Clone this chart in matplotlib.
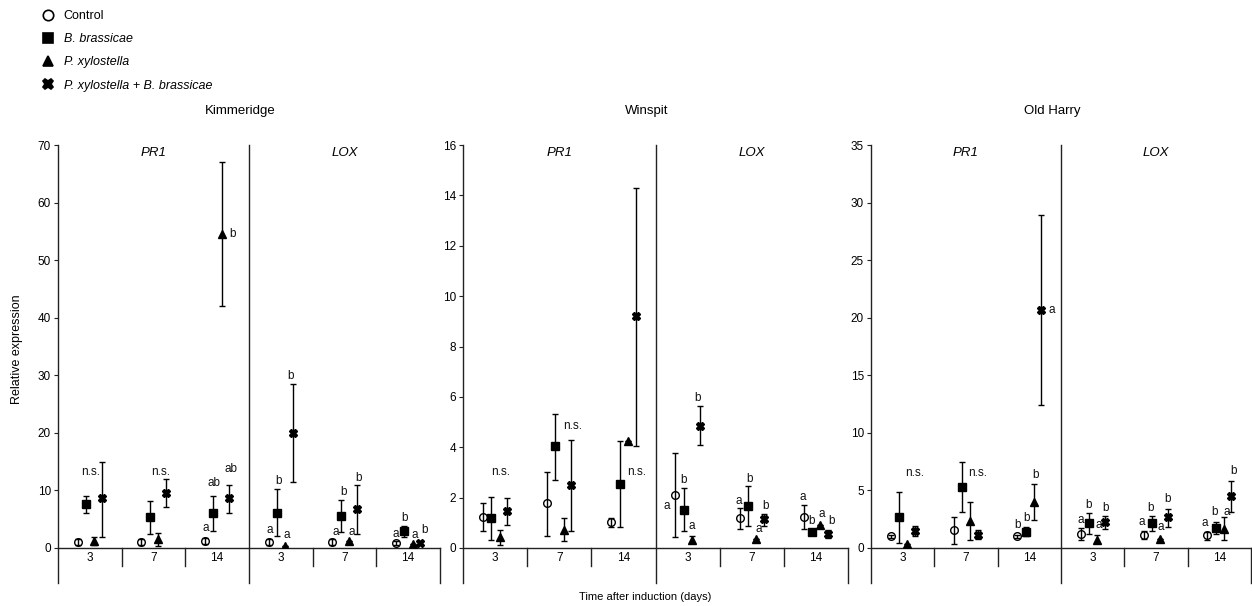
import numpy as np
import matplotlib
matplotlib.use('Agg')
import matplotlib.pyplot as plt
from matplotlib.lines import Line2D
import matplotlib.transforms as mtransforms

plt.rcParams['font.family'] = ['Liberation Sans', 'DejaVu Sans']

sites = ['Kimmeridge', 'Winspit', 'Old Harry']
genes = ['PR1', 'LOX']
days = ['3', '7', '14']
treatments = ['Control', 'B. brassicae', 'P. xylostella', 'P. xylostella + B. brassicae']
ymax = [70, 16, 35]
ystep = [10, 2, 5]

# rows: control, B. brassicae, P. xylostella, P. xylostella + B. brassicae
# cols: PR1 day 3, 7, 14, LOX day 3, 7, 14
kim_mean = [[1.0, 1.0, 1.2, 1.0, 1.0, 0.9],
            [7.7, 5.4, 6.0, 6.1, 5.6, 2.9],
            [1.15, 1.5, 54.5, 0.35, 1.15, 0.75],
            [8.6, 9.6, 8.6, 20.0, 6.7, 0.9]]
kim_lo = [[0.5, 0.5, 0.7, 0.5, 0.5, 0.5],
          [6.1, 2.5, 2.95, 2.0, 2.8, 1.9],
          [0.5, 0.35, 42.0, 0.35, 1.15, 0.75],
          [1.9, 7.1, 6.0, 11.5, 2.4, 0.6]]
kim_hi = [[1.5, 1.5, 1.7, 1.5, 1.5, 1.3],
          [9.1, 8.2, 9.0, 10.2, 8.3, 3.9],
          [1.9, 2.6, 67.0, 0.35, 1.15, 0.75],
          [15.0, 11.9, 11.0, 28.4, 10.9, 1.2]]

win_mean = [[1.22, 1.77, 1.02, 2.1, 1.18, 1.25],
            [1.19, 4.03, 2.54, 1.52, 1.68, 0.62],
            [0.42, 0.73, 4.24, 0.32, 0.36, 0.93],
            [1.47, 2.5, 9.2, 4.86, 1.15, 0.56]]
win_lo = [[0.66, 0.46, 0.82, 0.42, 0.75, 0.75],
          [0.33, 2.7, 0.82, 0.66, 0.86, 0.62],
          [0.13, 0.26, 4.24, 0.19, 0.36, 0.93],
          [0.91, 0.66, 4.05, 4.1, 0.89, 0.38]]
win_hi = [[1.77, 3.03, 1.19, 3.77, 1.59, 1.72],
          [2.04, 5.32, 4.24, 2.37, 2.45, 0.62],
          [0.72, 1.18, 4.24, 0.49, 0.36, 0.93],
          [2.0, 4.3, 14.3, 5.63, 1.35, 0.73]]

old_mean = [[1.0, 1.57, 1.0, 1.23, 1.09, 1.09],
            [2.66, 5.29, 1.37, 2.17, 2.14, 1.71],
            [0.34, 2.37, 4.0, 0.71, 0.74, 1.66],
            [1.5, 1.17, 20.7, 2.23, 2.66, 4.51]]
old_lo = [[0.85, 0.37, 0.85, 0.71, 0.74, 0.71],
          [0.46, 3.09, 1.0, 1.23, 1.46, 1.23],
          [0.34, 0.71, 2.46, 0.5, 0.74, 0.71],
          [1.0, 0.8, 12.4, 1.66, 1.8, 3.09]]
old_hi = [[1.15, 2.71, 1.15, 1.71, 1.51, 1.43],
          [4.86, 7.46, 1.8, 3.0, 2.74, 2.23],
          [0.34, 4.03, 5.57, 1.14, 0.74, 2.66],
          [1.94, 1.57, 28.9, 2.74, 3.43, 5.86]]

# significance letters: (x in category units, y, text)
kim_letters = [(0.51, 13.2, 'n.s.'), (1.62, 13.2, 'n.s.'),
               (2.32, 3.4, 'a'), (2.45, 11.3, 'ab'), (2.72, 13.7, 'ab'), (2.74, 54.5, 'b'),
               (3.32, 3.2, 'a'), (3.46, 11.6, 'b'), (3.59, 2.3, 'a'), (3.65, 29.8, 'b'),
               (4.36, 2.8, 'a'), (4.49, 9.7, 'b'), (4.61, 2.8, 'a'), (4.72, 12.2, 'b'),
               (5.30, 2.4, 'a'), (5.44, 5.2, 'b'), (5.60, 2.2, 'a'), (5.75, 3.2, 'b')]
win_letters = [(0.585, 3.0, 'n.s.'), (1.71, 4.83, 'n.s.'), (2.71, 3.0, 'n.s.'),
               (3.18, 1.68, 'a'), (3.44, 2.68, 'b'), (3.57, 0.86, 'a'), (3.65, 5.95, 'b'),
               (4.29, 1.87, 'a'), (4.46, 2.74, 'b'), (4.61, 0.75, 'a'), (4.71, 1.66, 'b'),
               (5.29, 2.04, 'a'), (5.43, 1.06, 'b'), (5.59, 1.35, 'a'), (5.74, 1.09, 'b')]
old_letters = [(0.695, 6.5, 'n.s.'), (1.68, 6.5, 'n.s.'),
               (2.32, 2.0, 'b'), (2.46, 2.6, 'b'), (2.59, 6.3, 'b'), (2.85, 20.7, 'a'),
               (3.31, 2.46, 'a'), (3.44, 3.71, 'b'), (3.60, 2.0, 'a'), (3.71, 3.51, 'b'),
               (4.28, 2.23, 'a'), (4.42, 3.51, 'b'), (4.57, 1.8, 'a'), (4.68, 4.29, 'b'),
               (5.27, 2.14, 'a'), (5.42, 3.14, 'b'), (5.61, 3.09, 'a'), (5.73, 6.66, 'b')]

means = [kim_mean, win_mean, old_mean]
los = [kim_lo, win_lo, old_lo]
his = [kim_hi, win_hi, old_hi]
letters = [kim_letters, win_letters, old_letters]

markers = ['o', 's', '^', 'X']
msizes = [5.5, 5.8, 6.2, 6.2]
offsets = [-0.19, -0.06, 0.07, 0.19]

W, H = 1252, 606
fig = plt.figure(figsize=(W / 100, H / 100), dpi=100)
panels = [(58, 440), (463, 848), (871, 1251)]
top, bot = 145, 548
ah = bot - top
lc = '#222222'

for k in range(3):
    l, r = panels[k]
    ax = fig.add_axes([l / W, (H - bot) / H, (r - l) / W, ah / H])
    ax.set_xlim(0, 6)
    ax.set_ylim(0, ymax[k])
    for s in ['top', 'right', 'left']:
        ax.spines[s].set_visible(False)
    ax.spines['bottom'].set_color(lc)
    ax.spines['bottom'].set_linewidth(1.0)
    ax.set_yticks(np.arange(0, ymax[k] + ystep[k], ystep[k]))
    ax.tick_params(axis='y', direction='out', length=3, width=0.8, color=lc, labelsize=8.5, pad=2)
    ax.set_xticks(np.arange(6) + 0.5)
    ax.set_xticklabels(days * 2)
    ax.tick_params(axis='x', length=0, pad=3, labelsize=8.5)

    d_full = -35 / ah
    d_sep = -18 / ah
    ax.plot([0, 0], [1, d_full], transform=ax.transAxes, clip_on=False, color=lc, lw=1.0)
    ax.plot([0.5, 0.5], [1, d_full], transform=ax.transAxes, clip_on=False, color=lc, lw=1.0)
    ax.plot([1, 1], [0, d_full], transform=ax.transAxes, clip_on=False, color=lc, lw=1.0)
    for sx in [1, 2, 4, 5]:
        ax.plot([sx / 6, sx / 6], [0, d_sep], transform=ax.transAxes, clip_on=False, color=lc, lw=1.0)

    trans = mtransforms.blended_transform_factory(ax.transData, ax.transAxes)
    for g, gene in enumerate(genes):
        ax.text(1.5 + 3 * g, 1 - 8 / ah, gene, transform=trans, ha='center', va='center',
                style='italic', fontsize=9.5)

    for i in range(4):
        m = np.array(means[k][i])
        lo = np.array(los[k][i])
        hi = np.array(his[k][i])
        x = np.arange(6) + 0.5 + offsets[i]
        ax.errorbar(x, m, yerr=[m - lo, hi - m], fmt=markers[i], ms=msizes[i],
                    mfc='none' if i == 0 else 'black', mec='black', mew=1.0,
                    ecolor='black', elinewidth=1.0, capsize=2.3, capthick=1.0, zorder=3)

    for (lx, ly, t) in letters[k]:
        ax.text(lx, ly, t, ha='center', va='center', fontsize=8.5, color='#111111')

    fig.text(((l + r) / 2 - 9) / W, 1 - 111 / H, sites[k], ha='center', va='center', fontsize=9.5)

fig.text(17 / W, 1 - 349 / H, 'Relative expression', rotation=90, ha='center', va='center', fontsize=9)
fig.text(645 / W, 1 - 597 / H, 'Time after induction (days)', ha='center', va='center', fontsize=8)

handles = [Line2D([], [], ls='none', marker=markers[i], ms=7.5, mec='black', mew=1.2,
                  mfc='white' if i == 0 else 'black') for i in range(4)]
leg = fig.legend(handles, treatments, loc='upper left', bbox_to_anchor=(42 / W, 1 - 10 / H),
                 frameon=False, borderpad=0, borderaxespad=0, handlelength=1.0,
                 handletextpad=0.75, labelspacing=0.9, fontsize=9)
for t in leg.get_texts()[1:]:
    t.set_style('italic')

fig.savefig('out.png', dpi=100)
